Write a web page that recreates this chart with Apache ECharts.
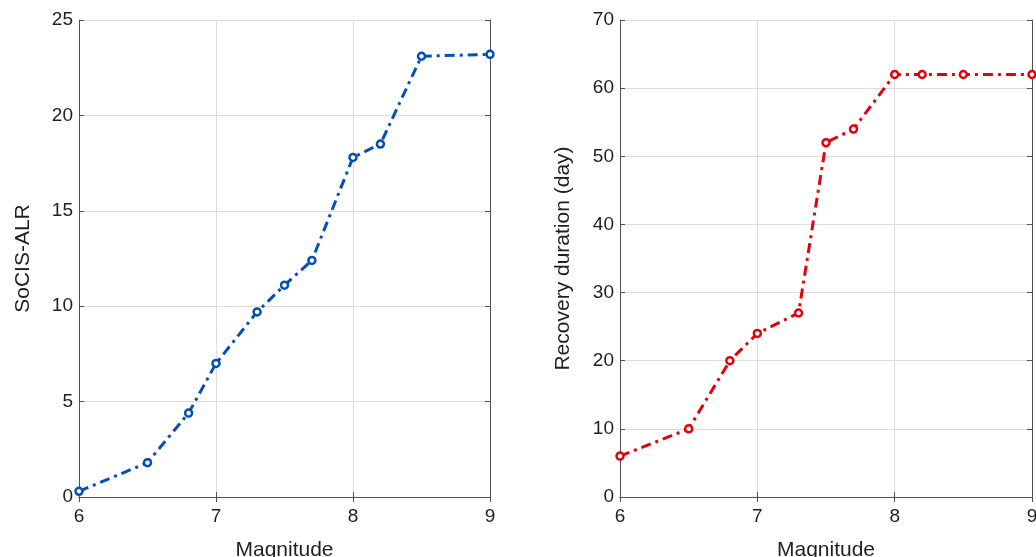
<!DOCTYPE html>
<html>
<head>
<meta charset="utf-8">
<script src="https://cdn.jsdelivr.net/npm/echarts@6/dist/echarts.min.js"></script>
<style>
html,body{margin:0;padding:0;background:#fff;}
#main{width:1036px;height:557px;}
</style>
</head>
<body>
<div id="main"></div>
<script>
const magnitudes = [6, 6.5, 6.8, 7, 7.3, 7.5, 7.7, 8, 8.2, 8.5, 9];
const socisAlr = [0.3, 1.8, 4.4, 7.0, 9.7, 11.1, 12.4, 17.8, 18.5, 23.1, 23.2];
const recoveryDays = [6, 10, 20, 24, 27, 52, 54, 62, 62, 62, 62];

const FONT = '"Liberation Sans", Arial, Helvetica, sans-serif';
const AXIS_COLOR = '#505050';
const GRID_COLOR = '#dcdcdc';
const TEXT_COLOR = '#1f1f1f';
const BLUE = '#0351b3';
const RED = '#e6000a';

function pairs(xs, ys) { return xs.map((x, i) => [x, ys[i]]); }

function mainX(gi) {
  return {
    gridIndex: gi, type: 'value', min: 6, max: 9, interval: 1, position: 'bottom',
    name: 'Magnitude', nameLocation: 'middle', nameGap: 43,
    nameTextStyle: { fontFamily: FONT, fontSize: 21, color: TEXT_COLOR },
    axisLine: { show: true, lineStyle: { color: AXIS_COLOR, width: 1 } },
    axisTick: { show: true, inside: true, length: 5, lineStyle: { color: AXIS_COLOR } },
    axisLabel: { fontFamily: FONT, fontSize: 19, color: TEXT_COLOR, margin: 10 },
    splitLine: { show: true, lineStyle: { color: GRID_COLOR, width: 1 } }
  };
}
function topX(gi) {
  return {
    gridIndex: gi, type: 'value', min: 6, max: 9, interval: 1, position: 'top',
    axisLine: { show: true, lineStyle: { color: AXIS_COLOR, width: 1 } },
    axisTick: { show: true, inside: true, length: 5, lineStyle: { color: AXIS_COLOR } },
    axisLabel: { show: false }, splitLine: { show: false }
  };
}
function mainY(gi, max, interval, name, gap) {
  return {
    gridIndex: gi, type: 'value', min: 0, max: max, interval: interval, position: 'left',
    name: name, nameLocation: 'middle', nameGap: gap, nameRotate: 90,
    nameTextStyle: { fontFamily: FONT, fontSize: 21, color: TEXT_COLOR },
    axisLine: { show: true, lineStyle: { color: AXIS_COLOR, width: 1 } },
    axisTick: { show: true, inside: true, length: 5, lineStyle: { color: AXIS_COLOR } },
    axisLabel: { fontFamily: FONT, fontSize: 19, color: TEXT_COLOR, margin: 6 },
    splitLine: { show: true, lineStyle: { color: GRID_COLOR, width: 1 } }
  };
}
function rightY(gi, max, interval) {
  return {
    gridIndex: gi, type: 'value', min: 0, max: max, interval: interval, position: 'right',
    axisLine: { show: true, lineStyle: { color: AXIS_COLOR, width: 1 } },
    axisTick: { show: true, inside: true, length: 5, lineStyle: { color: AXIS_COLOR } },
    axisLabel: { show: false }, splitLine: { show: false }
  };
}
function lineSeries(xi, yi, data, color) {
  return {
    type: 'line', xAxisIndex: xi, yAxisIndex: yi, data: data,
    symbol: 'circle', symbolSize: 7, showSymbol: true,
    lineStyle: { color: color, width: 3, type: [10, 5, 3, 5] },
    itemStyle: { color: '#ffffff', borderColor: color, borderWidth: 2.5 },
    animation: false, z: 5
  };
}

const chart = echarts.init(document.getElementById('main'), null, { renderer: 'canvas' });
chart.setOption({
  backgroundColor: '#ffffff',
  animation: false,
  grid: [
    { left: 79, right: 546, top: 20, bottom: 60, containLabel: false, outerBoundsMode: 'none' },
    { left: 620, right: 4, top: 20, bottom: 60, containLabel: false, outerBoundsMode: 'none' }
  ],
  xAxis: [mainX(0), topX(0), mainX(1), topX(1)],
  yAxis: [
    mainY(0, 25, 5, 'SoCIS-ALR', 45), rightY(0, 25, 5),
    mainY(1, 70, 10, 'Recovery duration (day)', 46), rightY(1, 70, 10)
  ],
  series: [
    lineSeries(0, 0, pairs(magnitudes, socisAlr), BLUE),
    lineSeries(2, 2, pairs(magnitudes, recoveryDays), RED)
  ]
});
</script>
</body>
</html>
